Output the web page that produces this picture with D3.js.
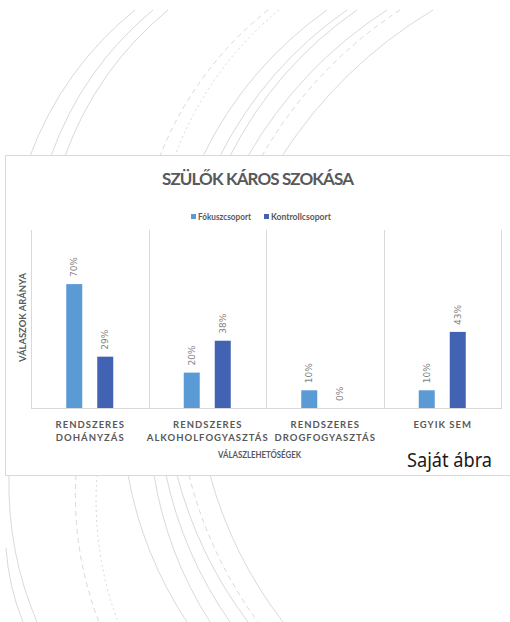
<!DOCTYPE html>
<html>
<head>
<meta charset="utf-8">
<script src="https://cdn.jsdelivr.net/npm/d3@7"></script>
<style>
  html, body { margin: 0; padding: 0; background: #ffffff; }
  svg { display: block; }
</style>
</head>
<body>
<div id="chart"></div>
<script>
// ---------- data ----------
const categories = ["RENDSZERES\nDOHÁNYZÁS", "RENDSZERES\nALKOHOLFOGYASZTÁS", "RENDSZERES\nDROGFOGYASZTÁS", "EGYIK SEM"];
const seriesNames = ["Fókuszcsoport", "Kontrollcsoport"];
const fokuszValues = [0.70, 0.20, 0.10, 0.10];
const kontrollValues = [0.29, 0.38, 0.00, 0.43];
const titleText = "SZÜLŐK KÁROS SZOKÁSA";
const xAxisTitle = "VÁLASZLEHETŐSÉGEK";
const yAxisTitle = "VÁLASZOK ARÁNYA";
const sourceText = "Saját ábra";

// decorative background arcs (page ornament, not data)
const topArcs = [
  [135, 30, "s"], [153, 51, "s"], [168, 65, "s"], [268, 160, "d"], [279, 175, "t"],
  [327, 203, "s"], [347, 220, "s"], [357, 230, "s"], [387, 248, "s"], [400, 262, "d"], [433, 282, "s"]
];
const bottomArcs = [
  [9, 37, "s"], [76, 99, "d"], [97, 118, "t"], [128, 187, "s"], [154, 210, "s"],
  [166, 230, "s"], [177, 248, "s"], [189, 258, "d"], [210, 283, "s"]
];

// ---------- setup ----------
const W = 510, H = 622;
const svg = d3.select("#chart").append("svg").attr("width", W).attr("height", H);
const grey = "#595959";
const colors = ["#5b9bd5", "#4263b3"];

// ---------- ornament ----------
function arcPath(x0, y0, x1, y1, sag) {
  const c = Math.hypot(x1 - x0, y1 - y0);
  const r = (c * c / 4 + sag * sag) / (2 * sag);
  return `M${x0},${y0} A${r},${r} 0 0 0 ${x1},${y1}`;
}
const dashFor = { s: null, d: "5,4", t: "2,3" };
const orn = svg.append("g").attr("fill", "none").attr("stroke", "#d9d9d9").attr("stroke-width", 1);
topArcs.forEach(a => {
  orn.append("path").attr("d", arcPath(a[0], 10, a[1], 156, 12)).attr("stroke-dasharray", dashFor[a[2]]);
});
bottomArcs.forEach(a => {
  orn.append("path").attr("d", arcPath(a[0], 475, a[1], 622, 8)).attr("stroke-dasharray", dashFor[a[2]]);
});
orn.append("path").attr("d", arcPath(6, 548, 23, 622, 3));

// ---------- chart frame ----------
svg.append("rect")
  .attr("x", 5.5).attr("y", 155.5).attr("width", 520).attr("height", 320)
  .attr("fill", "#ffffff").attr("stroke", "#d9d9d9").attr("stroke-width", 1);

// title
svg.append("text")
  .attr("x", 258).attr("y", 185)
  .attr("text-anchor", "middle")
  .attr("font-family", "Lato, 'Open Sans', sans-serif")
  .attr("font-weight", "bold").attr("font-size", 17)
  .attr("fill", grey)
  .attr("textLength", 192).attr("lengthAdjust", "spacing")
  .text(titleText);

// legend
const legendItems = [
  { name: seriesNames[0], x: 191, tw: 53 },
  { name: seriesNames[1], x: 264, tw: 60 }
];
const lg = svg.append("g");
legendItems.forEach((d, i) => {
  lg.append("rect").attr("x", d.x).attr("y", 214).attr("width", 5).attr("height", 5).attr("fill", colors[i]);
  lg.append("text")
    .attr("x", d.x + 7).attr("y", 219.5)
    .attr("font-family", "Lato, sans-serif").attr("font-weight", "bold").attr("font-size", 8.5)
    .attr("fill", grey)
    .attr("textLength", d.tw).attr("lengthAdjust", "spacingAndGlyphs")
    .text(d.name);
});

// ---------- scales ----------
const plot = { left: 31, right: 501, top: 230, bottom: 408 };
const x0 = d3.scaleBand().domain(d3.range(categories.length)).range([plot.left, plot.right]).padding(0);
const x1 = d3.scaleBand().domain([0, 1]).range([0, x0.bandwidth()]).paddingInner(15 / 31).paddingOuter(1.137);
const y = d3.scaleLinear().domain([0, 1]).range([plot.bottom, plot.bottom - 177]);

// gridlines (category separators)
const grid = svg.append("g").attr("stroke", "#d9d9d9").attr("stroke-width", 1);
d3.range(categories.length + 1).forEach(i => {
  const gx = Math.round(plot.left + i * x0.step()) + 0.5;
  grid.append("line").attr("x1", gx).attr("x2", gx).attr("y1", plot.top).attr("y2", plot.bottom);
});
grid.append("line").attr("x1", plot.left).attr("x2", plot.right + 1).attr("y1", plot.bottom + 0.5).attr("y2", plot.bottom + 0.5);

// bars
const rows = categories.map((c, i) => ({ i, vals: [fokuszValues[i], kontrollValues[i]] }));
const groups = svg.append("g").selectAll("g").data(rows).join("g")
  .attr("transform", d => `translate(${x0(d.i)},0)`);
groups.selectAll("rect").data(d => d.vals.map((v, s) => ({ v, s }))).join("rect")
  .attr("x", d => x1(d.s))
  .attr("width", x1.bandwidth())
  .attr("y", d => y(d.v))
  .attr("height", d => y(0) - y(d.v))
  .attr("fill", d => colors[d.s]);

// value labels (rotated)
groups.selectAll("text").data(d => d.vals.map((v, s) => ({ v, s }))).join("text")
  .attr("transform", d => `translate(${x1(d.s) + x1.bandwidth() / 2},${y(d.v) - 7}) rotate(-90)`)
  .attr("dy", "0.35em")
  .attr("text-anchor", "start")
  .attr("font-family", "'DejaVu Sans', sans-serif")
  .attr("font-size", 9)
  .attr("fill", "#7f7f7f")
  .text(d => d3.format(".0%")(d.v));

// category labels
const catG = svg.append("g")
  .attr("font-family", "Lato, sans-serif").attr("font-weight", "bold").attr("font-size", 9.5)
  .attr("fill", grey).attr("text-anchor", "middle").attr("letter-spacing", 1.0);
categories.forEach((c, i) => {
  const cx = x0(i) + x0.bandwidth() / 2;
  c.split("\n").forEach((line, k) => {
    catG.append("text").attr("x", cx + 0.5).attr("y", 428 + k * 13).text(line);
  });
});

// axis titles
svg.append("text")
  .attr("x", 259.5).attr("y", 458)
  .attr("text-anchor", "middle")
  .attr("font-family", "Lato, sans-serif").attr("font-weight", "bold").attr("font-size", 8.5)
  .attr("fill", grey)
  .attr("textLength", 83).attr("lengthAdjust", "spacingAndGlyphs")
  .text(xAxisTitle);

svg.append("text")
  .attr("transform", `translate(26,317.5) rotate(-90)`)
  .attr("text-anchor", "middle")
  .attr("font-family", "Lato, sans-serif").attr("font-weight", "bold").attr("font-size", 8.5)
  .attr("fill", grey)
  .attr("textLength", 89).attr("lengthAdjust", "spacingAndGlyphs")
  .text(yAxisTitle);

// source note
svg.append("text")
  .attr("x", 407).attr("y", 467)
  .attr("font-family", "'Noto Sans', Lato, sans-serif").attr("font-size", 19)
  .attr("fill", "#1a1a1a")
  .attr("textLength", 85).attr("lengthAdjust", "spacingAndGlyphs")
  .text(sourceText);
</script>
</body>
</html>
